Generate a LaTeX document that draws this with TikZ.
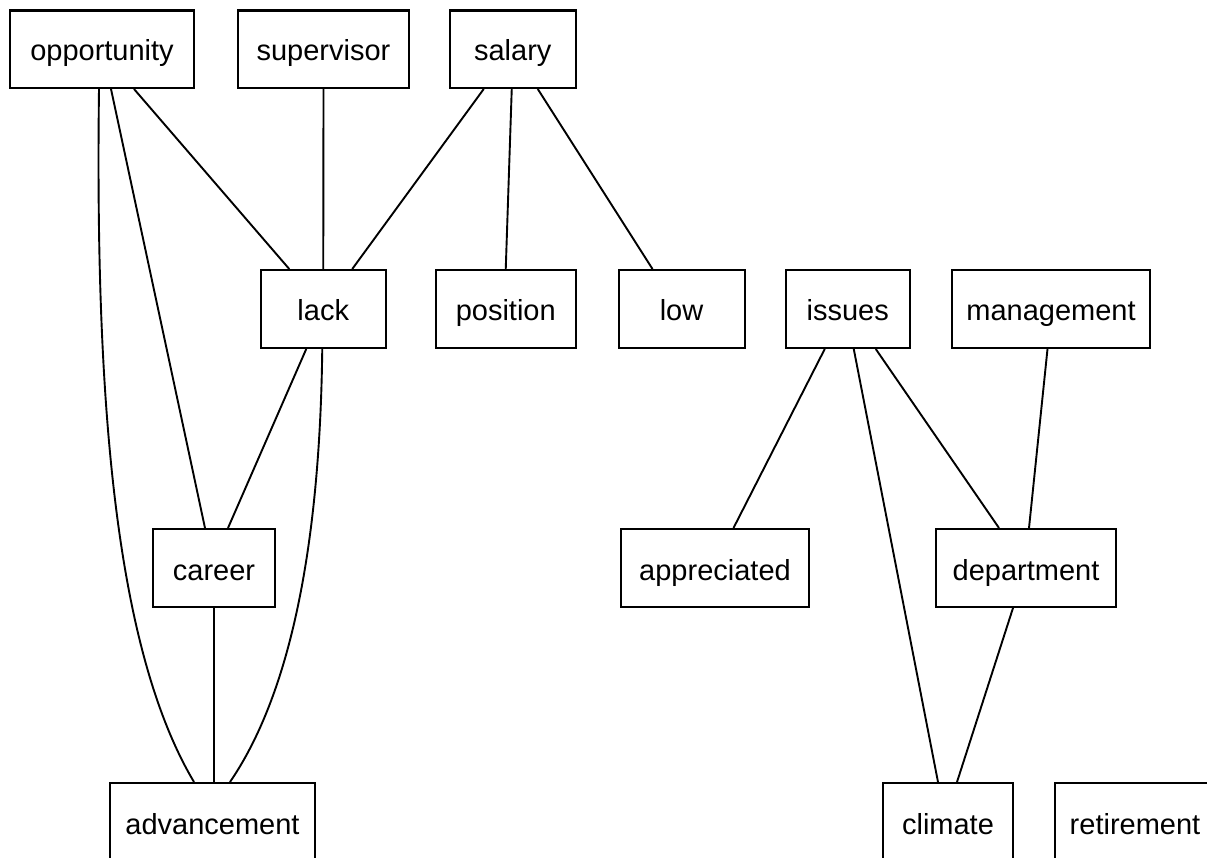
\documentclass[tikz,border=0pt]{standalone}
\usepackage{fontspec}
\setmainfont{Liberation Sans}
\begin{document}
\begin{tikzpicture}[x=1pt,y=-1pt,
  wbox/.style={draw=black,line width=2pt,rectangle,inner sep=2pt,minimum height=78pt,
    text height=29pt,text depth=5pt,font=\fontsize{29}{34}\selectfont},
  edge/.style={draw=black,line width=1.9pt},
  topedge/.style={draw=black,line width=3.5pt}]
\useasboundingbox (0,0) rectangle (1207,858);
\clip (0,0) rectangle (1207,858);
\fill[white] (0,0) rectangle (1207,858);
% top row
\node[wbox,minimum width=184pt] (opp) at (102,49) {opportunity};
\node[wbox,minimum width=171pt] (sup) at (323.5,49) {supervisor};
\node[wbox,minimum width=125.5pt] (sal) at (512.75,49) {salary};
\foreach \n in {opp,sup,sal}
  \draw[topedge] ([yshift=-1.5pt]\n.north west) -- ([yshift=-1.5pt]\n.north east);
% second row
\node[wbox,minimum width=125.5pt] (lack) at (323.25,309) {lack};
\node[wbox,minimum width=139.5pt] (pos) at (505.75,309) {position};
\node[wbox,minimum width=126pt] (low) at (681.5,309) {low};
\node[wbox,minimum width=123.5pt] (iss) at (847.75,309) {issues};
\node[wbox,minimum width=198pt] (mgmt) at (1051,309) {management};
% third row
\node[wbox,minimum width=122pt] (car) at (214,568) {career};
\node[wbox,minimum width=188pt] (app) at (715,568) {appreciated};
\node[wbox,minimum width=180pt] (dep) at (1026,568) {department};
% bottom row
\node[wbox,minimum width=205pt] (adv) at (212.5,822) {advancement};
\node[wbox,minimum width=130pt] (clim) at (948,822) {climate};
\node[wbox,minimum width=160pt] (ret) at (1135,822) {retirement};
% edges
\draw[edge] ([xshift=-3pt]opp.south) .. controls +(-4,312) and +(-79,-133) .. ([xshift=-18.5pt]adv.north);
\draw[edge] ([xshift=9pt]opp.south) -- ([xshift=-9pt]car.north);
\draw[edge] ([xshift=32pt]opp.south) -- ([xshift=-34pt]lack.north);
\draw[edge] (sup.south) -- (lack.north);
\draw[edge] ([xshift=-29pt]sal.south) -- ([xshift=29pt]lack.north);
\draw[edge] ([xshift=-1pt]sal.south) -- (pos.north);
\draw[edge] ([xshift=25pt]sal.south) -- ([xshift=-29pt]low.north);
\draw[edge] ([xshift=-17pt]lack.south) -- ([xshift=14pt]car.north);
\draw[edge] ([xshift=-1pt]lack.south) .. controls +(-2,172) and +(67,-98) .. ([xshift=17.5pt]adv.north);
\draw[edge] (car.south) -- (car.south |- adv.north);
\draw[edge] ([xshift=-23pt]iss.south) -- ([xshift=18.5pt]app.north);
\draw[edge] ([xshift=6pt]iss.south) -- ([xshift=-10pt]clim.north);
\draw[edge] ([xshift=28pt]iss.south) -- ([xshift=-27pt]dep.north);
\draw[edge] ([xshift=-3.5pt]mgmt.south) -- ([xshift=3pt]dep.north);
\draw[edge] ([xshift=-13pt]dep.south) -- ([xshift=9pt]clim.north);
\end{tikzpicture}
\end{document}
